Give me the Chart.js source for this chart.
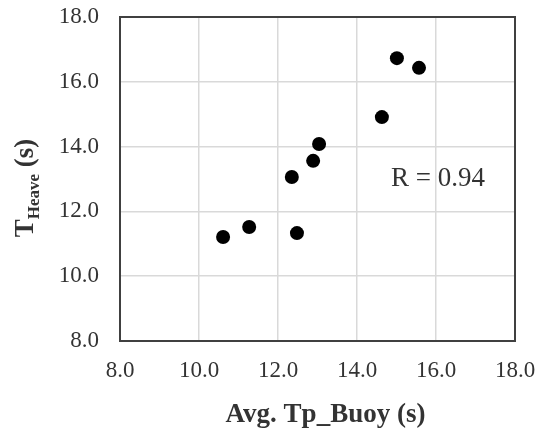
<!DOCTYPE html>
<html>
<head>
<meta charset="utf-8">
<script src="https://cdn.jsdelivr.net/npm/chart.js@4/dist/chart.umd.min.js"></script>
<style>
    html, body { margin: 0; padding: 0; background: #fff; }
    #wrap { width: 536px; height: 434px; }
</style>
</head>
<body>
<div id="wrap"><canvas id="heaveChart" width="536" height="434"></canvas></div>
<script>
// Buoy peak period vs heave period
const tpBuoy = [10.61, 11.27, 12.48, 12.35, 12.89, 13.04, 14.63, 15.01, 15.57];
const tHeave = [11.21, 11.52, 11.33, 13.06, 13.56, 14.08, 14.91, 16.73, 16.43];
const axisTicks = [8, 10, 12, 14, 16, 18];
const corrLabel = 'R = 0.94';

const SERIF = "'Liberation Serif', 'Times New Roman', serif";
const TEXT_COLOR = '#333333';

/**
 * Frame around the plot area
 */
const framePlugin = {
    id: 'frame',
    afterDatasetsDraw(chart) {
        const { ctx, chartArea: a } = chart;
        ctx.save();
        ctx.strokeStyle = '#404040';
        ctx.lineWidth = 2;
        ctx.strokeRect(a.left, a.top, a.right - a.left, a.bottom - a.top);
        ctx.restore();
    }
};

/**
 * Axis titles (y title has a subscript) and the correlation note
 */
const labelsPlugin = {
    id: 'labels',
    afterDraw(chart) {
        const { ctx, chartArea: a, scales } = chart;
        ctx.save();
        ctx.fillStyle = TEXT_COLOR;

        // x title
        ctx.font = 'bold 27px ' + SERIF;
        ctx.textAlign = 'center';
        ctx.textBaseline = 'alphabetic';
        ctx.fillText('Avg. Tp_Buoy (s)', (a.left + a.right) / 2 + 8, a.bottom + 81);

        // y title: T with "Heave" subscript
        const big = 'bold 27px ' + SERIF;
        const small = 'bold 17px ' + SERIF;
        ctx.font = big;
        const wT = ctx.measureText('T').width;
        const wS = ctx.measureText(' (s)').width;
        ctx.font = small;
        const wH = ctx.measureText('Heave').width;
        const total = wT + wH + wS;
        ctx.translate(33, (a.top + a.bottom) / 2 + 9);
        ctx.rotate(-Math.PI / 2);
        ctx.textAlign = 'left';
        let x = -total / 2;
        ctx.font = big;
        ctx.fillText('T', x, 0);
        x += wT;
        ctx.font = small;
        ctx.fillText('Heave', x, 6);
        x += wH;
        ctx.font = big;
        ctx.fillText(' (s)', x, 0);
        ctx.setTransform(1, 0, 0, 1, 0, 0);

        // correlation coefficient
        ctx.font = '27px ' + SERIF;
        ctx.textAlign = 'center';
        ctx.textBaseline = 'middle';
        ctx.fillText(corrLabel, scales.x.getPixelForValue(16.05), scales.y.getPixelForValue(13.0));
        ctx.restore();
    }
};

function axisOptions(fitFn, tickPadding) {
    return {
        type: 'linear',
        min: axisTicks[0],
        max: axisTicks[axisTicks.length - 1],
        afterBuildTicks(scale) {
            scale.ticks = axisTicks.map(v => ({ value: v }));
        },
        afterFit(scale) {
            // fixed axis sizes, no extra room for overhanging labels
            fitFn(scale);
            scale.paddingLeft = scale.paddingRight = 0;
            scale.paddingTop = scale.paddingBottom = 0;
        },
        grid: {
            color: '#d9d9d9',
            lineWidth: 1.5,
            drawTicks: false
        },
        border: { display: false },
        ticks: {
            padding: tickPadding,
            color: TEXT_COLOR,
            maxRotation: 0,
            font: { family: SERIF, size: 23 },
            callback: v => Number(v).toFixed(1)
        }
    };
}

new Chart(document.getElementById('heaveChart'), {
    type: 'scatter',
    data: {
        datasets: [{
            data: tpBuoy.map((v, i) => ({ x: v, y: tHeave[i] })),
            backgroundColor: '#000000',
            borderWidth: 0,
            pointRadius: 7,
            pointHoverRadius: 7
        }]
    },
    options: {
        responsive: false,
        devicePixelRatio: 1,
        animation: false,
        layout: { padding: { top: 17, right: 21, left: 0, bottom: 0 } },
        plugins: {
            legend: { display: false },
            tooltip: { enabled: false }
        },
        scales: {
            x: axisOptions(s => { s.height = 93; }, 16),
            y: axisOptions(s => { s.width = 120; }, 21)
        }
    },
    plugins: [framePlugin, labelsPlugin]
});
</script>
</body>
</html>
